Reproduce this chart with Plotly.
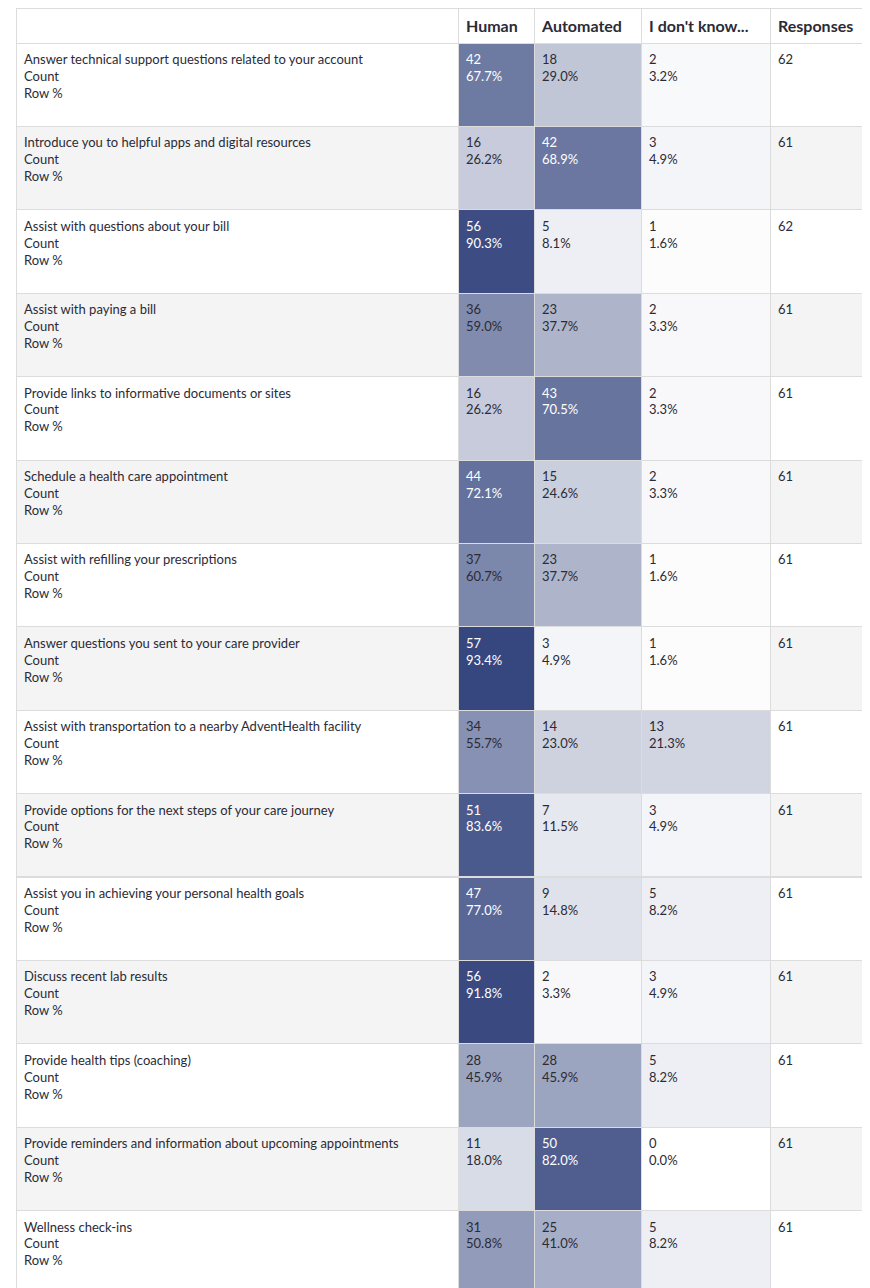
import plotly.graph_objects as go

questions = [
    "Answer technical support questions related to your account",
    "Introduce you to helpful apps and digital resources",
    "Assist with questions about your bill",
    "Assist with paying a bill",
    "Provide links to informative documents or sites",
    "Schedule a health care appointment",
    "Assist with refilling your prescriptions",
    "Answer questions you sent to your care provider",
    "Assist with transportation to a nearby AdventHealth facility",
    "Provide options for the next steps of your care journey",
    "Assist you in achieving your personal health goals",
    "Discuss recent lab results",
    "Provide health tips (coaching)",
    "Provide reminders and information about upcoming appointments",
    "Wellness check-ins",
]
human_n = [42, 16, 56, 36, 16, 44, 37, 57, 34, 51, 47, 56, 28, 11, 31]
human_p = [67.7, 26.2, 90.3, 59.0, 26.2, 72.1, 60.7, 93.4, 55.7, 83.6, 77.0, 91.8, 45.9, 18.0, 50.8]
auto_n = [18, 42, 5, 23, 43, 15, 23, 3, 14, 7, 9, 2, 28, 50, 25]
auto_p = [29.0, 68.9, 8.1, 37.7, 70.5, 24.6, 37.7, 4.9, 23.0, 11.5, 14.8, 3.3, 45.9, 82.0, 41.0]
dk_n = [2, 3, 1, 2, 2, 2, 1, 1, 13, 3, 5, 3, 5, 0, 5]
dk_p = [3.2, 4.9, 1.6, 3.3, 3.3, 3.3, 1.6, 1.6, 21.3, 4.9, 8.2, 4.9, 8.2, 0.0, 8.2]
responses = [62, 61, 62, 61, 61, 61, 61, 61, 61, 61, 61, 61, 61, 61, 61]
headers = ["", "Human", "Automated", "I don't know...", "Responses"]

DARK = (40, 58, 118)
TEXT = "#2b2b36"


def shade(p):
    t = p / 100.0
    r, g, b = (round(255 + (c - 255) * t) for c in DARK)
    return f"rgb({r},{g},{b})"


def fg(p):
    return "white" if p > 65 else TEXT


stripe = ["white" if i % 2 == 0 else "#f4f4f4" for i in range(len(questions))]

col_label = [f"{q}<br>Count<br>Row %" for q in questions]
col_h = [f"<br>{n}<br>{p:.1f}%" for n, p in zip(human_n, human_p)]
col_a = [f"<br>{n}<br>{p:.1f}%" for n, p in zip(auto_n, auto_p)]
col_d = [f"<br>{n}<br>{p:.1f}%" for n, p in zip(dk_n, dk_p)]
col_r = [f"<br>{n}" for n in responses]

fig = go.Figure(go.Table(
    columnwidth=[442, 76, 107, 129, 103],
    header=dict(
        values=[f"<b>{h}</b>" for h in headers],
        fill_color="white",
        line=dict(color="#dcdcdc", width=1),
        align="left",
        height=35,
        font=dict(family="Lato, Open Sans", size=16, color=TEXT),
    ),
    cells=dict(
        values=[col_label, col_h, col_a, col_d, col_r],
        fill_color=[stripe, [shade(p) for p in human_p], [shade(p) for p in auto_p],
                    [shade(p) for p in dk_p], stripe],
        font=dict(family="Lato, Open Sans", size=13,
                  color=[[TEXT] * len(questions), [fg(p) for p in human_p],
                         [fg(p) for p in auto_p], [fg(p) for p in dk_p],
                         [TEXT] * len(questions)]),
        line=dict(color="#dcdcdc", width=1),
        align="left",
        height=83.4,
    ),
))
fig.update_layout(width=870, height=1288, margin=dict(l=8, r=5, t=0, b=0),
                  paper_bgcolor="white")
fig.write_html("out.html")
